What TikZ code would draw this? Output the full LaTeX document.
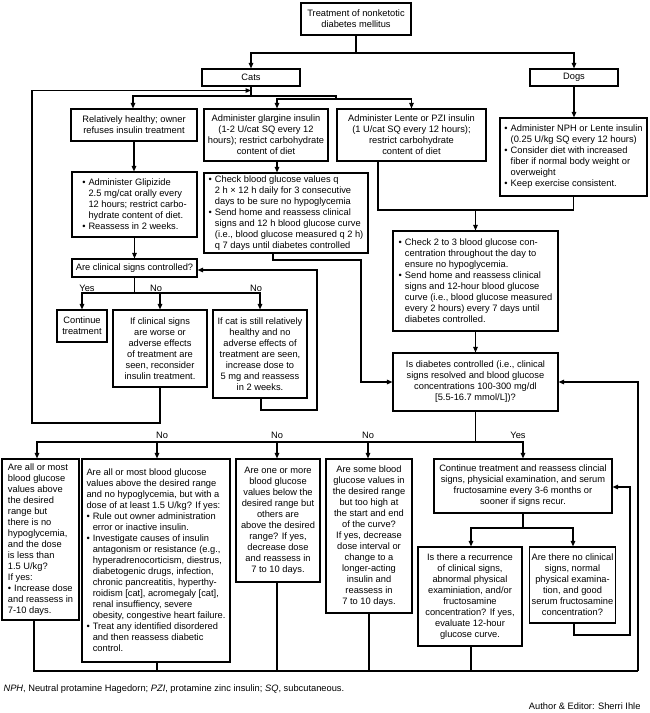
\documentclass[tikz,border=0pt]{standalone}
\usepackage{fontspec}
\setmainfont{Liberation Sans}
\usetikzlibrary{arrows.meta,calc}
\newcommand{\mybul}{\textbullet\hspace{3pt}}
\newcommand{\myind}{\hphantom{\textbullet}\hspace{3pt}}
\begin{document}
\begin{tikzpicture}[x=1pt,y=-1pt,line width=1.1pt,
  every node/.style={font=\fontsize{9.3}{11}\selectfont},
  box/.style={draw, line width=1.1pt, inner sep=0pt, align=center},
  lbox/.style={box, align=left},
  arr/.style={-{Triangle[length=5.5pt,width=4.5pt]}},
  lab/.style={inner sep=0pt}]
\useasboundingbox[fill=white] (0,0) rectangle (650,713);

% ---- nodes ----
\node[box, minimum width=110pt, minimum height=32pt] (top) at (356,19) {Treatment of nonketotic\\diabetes mellitus};
\node[box, minimum width=98pt, minimum height=17pt] (cats) at (251,77.5) {Cats};
\node[box, minimum width=88pt, minimum height=17pt] (dogs) at (574,77.5) {Dogs};
\node[box, minimum width=126pt, minimum height=32pt] (rel) at (134,125) {Relatively healthy; owner\\refuses insulin treatment};
\node[box, minimum width=124pt, minimum height=52pt] (glar) at (266,135) {Administer glargine insulin\\(1-2 U/cat SQ every 12\\hours); restrict carbohydrate\\content of diet};
\node[box, minimum width=149pt, minimum height=52pt] (lente) at (411.5,135) {Administer Lente or PZI insulin\\(1 U/cat SQ every 12 hours);\\restrict carbohydrate\\content of diet};
\node[lbox, minimum width=147pt, minimum height=78pt] (nph) at (573.5,157) {\mybul Administer NPH or Lente insulin\\\myind(0.25 U/kg SQ every 12 hours)\\\mybul Consider diet with increased\\\myind fiber if normal body weight or\\\myind overweight\\\mybul Keep exercise consistent.};
\node[lbox, minimum width=125pt, minimum height=65pt] (glip) at (134.5,204.5) {\mybul Administer Glipizide\\\myind 2.5 mg/cat orally every\\\myind 12 hours; restrict carbo-\\\myind hydrate content of diet.\\\mybul Reassess in 2 weeks.};
\node[lbox, minimum width=164pt, minimum height=80pt] (check) at (286,213) {\mybul Check blood glucose values q\\\myind 2 h × 12 h daily for 3 consecutive\\\myind days to be sure no hypoglycemia\\\mybul Send home and reassess clinical\\\myind signs and 12 h blood glucose curve\\\myind (i.e., blood glucose measured q 2 h)\\\myind q 7 days until diabetes controlled};
\node[lbox, minimum width=165pt, minimum height=100pt] (check2) at (475.5,281) {\mybul Check 2 to 3 blood glucose con-\\\myind centration throughout the day to\\\myind ensure no hypoglycemia.\\\mybul Send home and reassess clinical\\\myind signs and 12-hour blood glucose\\\myind curve (i.e., blood glucose measured\\\myind every 2 hours) every 7 days until\\\myind diabetes controlled.};
\node[box, minimum width=125pt, minimum height=18pt] (arecl) at (134.5,268) {Are clinical signs controlled?};
\node[box, minimum width=50pt, minimum height=32pt] (cont) at (82,326) {Continue\\treatment};
\node[box, minimum width=94pt, minimum height=77pt] (worse) at (160,348.5) {If clinical signs\\are worse or\\adverse effects\\of treatment are\\seen, reconsider\\insulin treatment.};
\node[box, minimum width=94pt, minimum height=88pt] (ifcat) at (260,354) {If cat is still relatively\\healthy and no\\adverse effects of\\treatment are seen,\\increase dose to\\5 mg and reassess\\in 2 weeks.};
\node[box, minimum width=165pt, minimum height=58pt] (diab) at (475.5,382) {Is diabetes controlled (i.e., clinical\\signs resolved and blood glucose\\concentrations 100-300 mg/dl\\{[5.5-16.7 mmol/L]})?};
\node[lbox, minimum width=77pt, minimum height=161pt] (b1) at (40.5,539.5) {Are all or most\\blood glucose\\values above\\the desired\\range but\\there is no\\hypoglycemia,\\and the dose\\is less than\\1.5 U/kg?\\If yes:\\\mybul Increase dose\\and reassess in\\7-10 days.};
\node[lbox, minimum width=148pt, minimum height=203pt] (b2) at (156,560.5) {Are all or most blood glucose\\values above the desired range\\and no hypoglycemia, but with a\\dose of at least 1.5 U/kg? If yes:\\\mybul Rule out owner administration\\\myind error or inactive insulin.\\\mybul Investigate causes of insulin\\\myind antagonism or resistance (e.g.,\\\myind hyperadrenocorticism, diestrus,\\\myind diabetogenic drugs, infection,\\\myind chronic pancreatitis, hyperthy-\\\myind roidism [cat], acromegaly [cat],\\\myind renal insuffiency, severe\\\myind obesity, congestive heart failure.\\\mybul Treat any identified disordered\\\myind and then reassess diabetic\\\myind control.};
\node[box, minimum width=84pt, minimum height=123pt] (b3) at (278,520.5) {Are one or more\\blood glucose\\values below the\\desired range but\\others are\\above the desired\\range? If yes,\\decrease dose\\and reassess in\\7 to 10 days.};
\node[box, minimum width=86pt, minimum height=154pt] (b4) at (369,536) {Are some blood\\glucose values in\\the desired range\\but too high at\\the start and end\\of the curve?\\If yes, decrease\\dose interval or\\change to a\\longer-acting\\insulin and\\reassess in\\7 to 10 days.};
\node[box, minimum width=178pt, minimum height=54pt] (b5) at (523,486) {Continue treatment and reassess clincial\\signs, physicial examination, and serum\\fructosamine every 3-6 months or\\sooner if signs recur.};
\node[box, minimum width=104pt, minimum height=99pt] (b6) at (470,596.5) {Is there a recurrence\\of clinical signs,\\abnormal physical\\examiniation, and/or\\fructosamine\\concentration? If yes,\\evaluate 12-hour\\glucose curve.};
\node[box, minimum width=86pt, minimum height=76pt] (b7) at (572.5,585) {Are there no clinical\\signs, normal\\physical examina-\\tion, and good\\serum fructosamine\\concentration?};

% labels
\node[lab] (l1) at (87,288) {Yes};
\node[lab] (l2) at (156,288) {No};
\node[lab] (l3) at (256,288) {No};
\node[lab] (l4) at (162,435) {No};
\node[lab] (l5) at (277,435) {No};
\node[lab] (l6) at (368,435) {No};
\node[lab] (l7) at (518,435) {Yes};

\node[lab, anchor=west] (foot) at (3,689) {\textit{NPH}, Neutral protamine Hagedorn; \textit{PZI}, protamine zinc insulin; \textit{SQ}, subcutaneous.};
\node[lab, anchor=east] (auth) at (641,706) {Author \& Editor: Sherri Ihle};

% ---- junction coordinates ----
\coordinate (tj) at (356,53);
\coordinate (cj) at (251,96);
\coordinate (cj2) at (336,99);
\coordinate (lp1) at (32,423);
\coordinate (lpA) at (32,90.5);
\coordinate (lj) at (475.5,210);
\coordinate (ck) at (361,260);
\coordinate (aj) at (134.5,293);
\coordinate (ic) at (317,410);
\coordinate (dj) at (475.5,442);
\coordinate (bj) at (523,528);
\coordinate (b7c) at (630,635);
\coordinate (bl) at (638,671);

% ---- connectors ----
\draw (top.south) -- (tj);
\draw[arr] (tj) -| (cats.north);
\draw[arr] (tj) -| (dogs.north);
\draw (cats.south) -- (cj);
\draw[arr] (cj) -| ([xshift=-1pt]rel.north);
\draw (cj) -| (cj2);
\draw[arr] (cj2) -| ([xshift=11pt]glar.north);
\draw[arr] (cj2) -| (lente.north);
\draw[arr] (worse.south) |- (lp1) -- (lpA) -- (cj |- lpA);
\draw[arr] (dogs.south) -- (dogs.south |- nph.north);
\draw[arr] (rel.south) -- (rel.south |- glip.north);
\draw[arr] ([xshift=11pt]glar.south) -- ([xshift=11pt]glar.south |- check.north);
\draw ([xshift=-33.5pt]lente.south) |- (lj) -| (nph.south);
\draw[arr] (lj) -- (check2.north);
\draw[arr] (check2.south) -- (diab.north);
\draw[arr] ([xshift=-13pt]check.south) |- (ck) |- (diab.west);
\draw[arr] (glip.south) -- (glip.south |- arecl.north);
\draw (arecl.south) -- (aj);
\draw[arr] (aj) -| (cont.north);
\draw[arr] (aj) -| (worse.north);
\draw[arr] (aj) -| (ifcat.north);
\draw[arr] ([xshift=1pt]ifcat.south) |- (ic) |- ([yshift=-2pt]arecl.east);
\draw (diab.south) -- (dj);
\draw[arr] (dj) -| ([xshift=-3.5pt]b1.north);
\draw[arr] (dj) -| ([xshift=1pt]b2.north);
\draw[arr] (dj) -| ([xshift=-1pt]b3.north);
\draw[arr] (dj) -| ([xshift=-1pt]b4.north);
\draw[arr] (dj) -| (b5.north);
\draw (b5.south) -- (bj);
\draw[arr] (bj) -| ([xshift=1pt]b6.north);
\draw[arr] (bj) -| ([xshift=0.5pt]b7.north);
\draw[arr] ([xshift=1.5pt]b7.south) |- (b7c) |- ([yshift=-1pt]b5.east);
\draw ([xshift=-6.5pt]b1.south) |- (bl);
\draw[arr] (bl) |- (diab.east);
\draw ([xshift=1pt]b2.south) -- ([xshift=1pt]b2.south |- bl);
\draw ([xshift=-1pt]b3.south) -- ([xshift=-1pt]b3.south |- bl);
\draw (b4.south) -- (b4.south |- bl);
\draw ([xshift=1pt]b6.south) -- ([xshift=1pt]b6.south |- bl);
\end{tikzpicture}
\end{document}
